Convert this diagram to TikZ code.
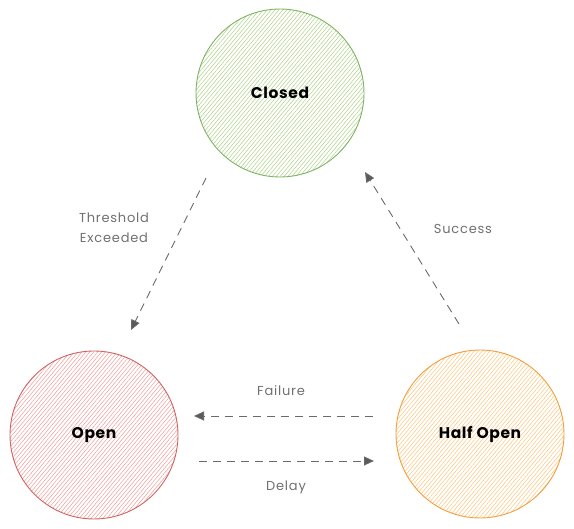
\documentclass[tikz,border=0pt]{standalone}
\usepackage{fontspec}
\setmainfont{Poppins}
\usetikzlibrary{arrows.meta,patterns.meta}
\definecolor{gstroke}{HTML}{82B366}
\definecolor{gfill}{HTML}{B0D48C}
\definecolor{rstroke}{HTML}{D06565}
\definecolor{rfill}{HTML}{F0A0A0}
\definecolor{ostroke}{HTML}{F0A040}
\definecolor{ofill}{HTML}{FAC882}
\definecolor{lblgray}{HTML}{707070}
\definecolor{arrgray}{HTML}{6A6A6A}
\tikzset{
  state/.style={circle, minimum size=168pt, inner sep=0pt, line width=0.9pt,
    font=\fontsize{15.5}{18}\selectfont\bfseries\addfontfeatures{LetterSpace=4}, text=black},
  hatch/.style={pattern={Lines[angle=50,distance=3pt,line width=0.55pt]}, pattern color=#1},
  conn/.style={draw=arrgray, line width=0.9pt, dash pattern=on 8pt off 6pt,
    -{Triangle[length=10pt,width=9pt,fill=arrgray!85!black]}},
  lbl/.style={text=lblgray, font=\fontsize{13}{20}\selectfont\addfontfeatures{LetterSpace=6}, align=center}
}
\begin{document}
\begin{tikzpicture}[x=1pt,y=-1pt]
\useasboundingbox (0,0) rectangle (574,529);
\node[state, draw=gstroke, hatch=gfill] (closed) at (280,93) {Closed};
\node[state, draw=rstroke, hatch=rfill] (open) at (94,435) {Open};
\node[state, draw=ostroke, hatch=ofill] (half) at (480,434) {Half Open};
\coordinate (c1) at (206,178);
\coordinate (o1) at (131,330);
\coordinate (h1) at (459,324);
\coordinate (c2) at (365,172);
\coordinate (h2) at (373,416);
\coordinate (o2) at (194,416);
\coordinate (o3) at (199,461);
\coordinate (h3) at (374,461);
\draw[conn] (c1) -- (o1);
\draw[conn] (h1) -- (c2);
\draw[conn] (h2) -- (o2);
\draw[conn] (o3) -- (h3);
\node[lbl] (lthr) at (114,228) {Threshold\\Exceeded};
\node[lbl] (lsuc) at (463,229) {Success};
\node[lbl] (lfail) at (281,391) {Failure};
\node[lbl] (ldel) at (286,487) {Delay};
\end{tikzpicture}
\end{document}
